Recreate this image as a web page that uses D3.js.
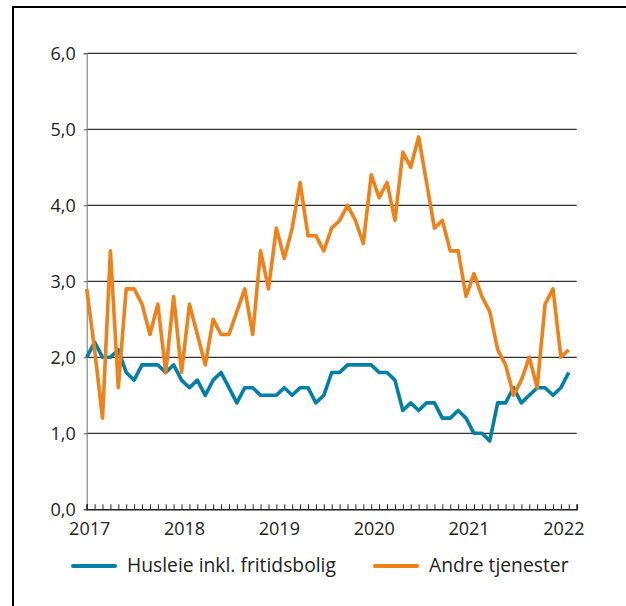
<!DOCTYPE html>
<meta charset="utf-8">
<style>
  body { margin: 0; background: #fff; }
  text { font-family: "Open Sans", "Noto Sans", sans-serif; fill: #222; }
</style>
<script src="https://d3js.org/d3.v7.min.js"></script>
<div id="chart"></div>
<script>

// monthly values, Jan 2017 - Feb 2022
var husleie = [2.0, 2.2, 2.0, 2.0, 2.1, 1.8, 1.7, 1.9, 1.9, 1.9, 1.8, 1.9,
               1.7, 1.6, 1.7, 1.5, 1.7, 1.8, 1.6, 1.4, 1.6, 1.6, 1.5, 1.5,
               1.5, 1.6, 1.5, 1.6, 1.6, 1.4, 1.5, 1.8, 1.8, 1.9, 1.9, 1.9,
               1.9, 1.8, 1.8, 1.7, 1.3, 1.4, 1.3, 1.4, 1.4, 1.2, 1.2, 1.3,
               1.2, 1.0, 1.0, 0.9, 1.4, 1.4, 1.6, 1.4, 1.5, 1.6, 1.6, 1.5,
               1.6, 1.8];
var andreTjenester = [2.9, 2.1, 1.2, 3.4, 1.6, 2.9, 2.9, 2.7, 2.3, 2.7, 1.8, 2.8,
                      1.8, 2.7, 2.3, 1.9, 2.5, 2.3, 2.3, 2.6, 2.9, 2.3, 3.4, 2.9,
                      3.7, 3.3, 3.7, 4.3, 3.6, 3.6, 3.4, 3.7, 3.8, 4.0, 3.8, 3.5,
                      4.4, 4.1, 4.3, 3.8, 4.7, 4.5, 4.9, 4.3, 3.7, 3.8, 3.4, 3.4,
                      2.8, 3.1, 2.8, 2.6, 2.1, 1.9, 1.5, 1.7, 2.0, 1.6, 2.7, 2.9,
                      2.0, 2.1];
var years = ["2017", "2018", "2019", "2020", "2021", "2022"];
var yTicks = [0, 1, 2, 3, 4, 5, 6];
var seriesNames = ["Husleie inkl. fritidsbolig", "Andre tjenester"];

var blue = "#007fa8", orange = "#f08018";

var svg = d3.select("#chart").append("svg")
    .attr("width", 626)
    .attr("height", 606);

// frame (top and left edge)
svg.append("path")
    .attr("d", "M13,606V7H626")
    .attr("fill", "none")
    .attr("stroke", "#000")
    .attr("stroke-width", 2);

var x = d3.scaleLinear().domain([0, 62]).range([86.7, 576.7]);
var y = d3.scaleLinear().domain([0, 6]).range([509.3, 53.3]);

// gridlines
svg.append("g")
  .selectAll("line")
  .data(yTicks.slice(1))
  .enter().append("line")
    .attr("x1", x(0)).attr("x2", x(62))
    .attr("y1", function(d) { return y(d); })
    .attr("y2", function(d) { return y(d); })
    .attr("stroke", "#333")
    .attr("stroke-width", 1.2);

// y axis
var yAxis = svg.append("g")
    .attr("transform", "translate(" + x(0) + ",0)")
    .call(d3.axisLeft(y).tickValues(yTicks).tickSize(3).tickPadding(8)
      .tickFormat(function(d) { return d3.format(".1f")(d).replace(".", ","); }));
yAxis.select(".domain").attr("stroke", "#888").attr("stroke-width", 1.2);
yAxis.selectAll(".tick line").attr("stroke", "#555");
yAxis.selectAll("text")
    .style("font-size", "18px")
    .attr("fill", "#222")
    .attr("font-family", null);

// x axis with month ticks pointing up
var xAxis = svg.append("g")
    .attr("transform", "translate(0," + y(0) + ")")
    .call(d3.axisTop(x).tickValues(d3.range(0, 63)).tickSize(5).tickFormat(""));
xAxis.select(".domain").attr("stroke", "#222").attr("stroke-width", 1.5);
xAxis.selectAll(".tick line").attr("stroke", "#222");

svg.append("g")
  .selectAll("text")
  .data(years)
  .enter().append("text")
    .attr("x", function(d, i) { return x(i * 12) + 3; })
    .attr("y", 535)
    .attr("text-anchor", "middle")
    .style("font-size", "18px")
    .text(function(d) { return d; });

// lines
var line = d3.line()
    .x(function(d, i) { return x(i); })
    .y(function(d) { return y(d); });

[[husleie, blue], [andreTjenester, orange]].forEach(function(s) {
  svg.append("path")
      .datum(s[0])
      .attr("d", line)
      .attr("fill", "none")
      .attr("stroke", s[1])
      .attr("stroke-width", 3.6)
      .attr("stroke-linejoin", "round");
});

// legend
var legendX = [73, 375];
var legend = svg.append("g")
  .selectAll("g")
  .data(seriesNames)
  .enter().append("g")
    .attr("transform", function(d, i) { return "translate(" + legendX[i] + ",566)"; });
legend.append("line")
    .attr("x1", 0).attr("x2", 42)
    .attr("stroke", function(d, i) { return [blue, orange][i]; })
    .attr("stroke-width", 4)
    .attr("stroke-linecap", "round");
legend.append("text")
    .attr("x", 54)
    .attr("y", 6)
    .style("font-size", "19.3px")
    .text(function(d) { return d; });

</script>
